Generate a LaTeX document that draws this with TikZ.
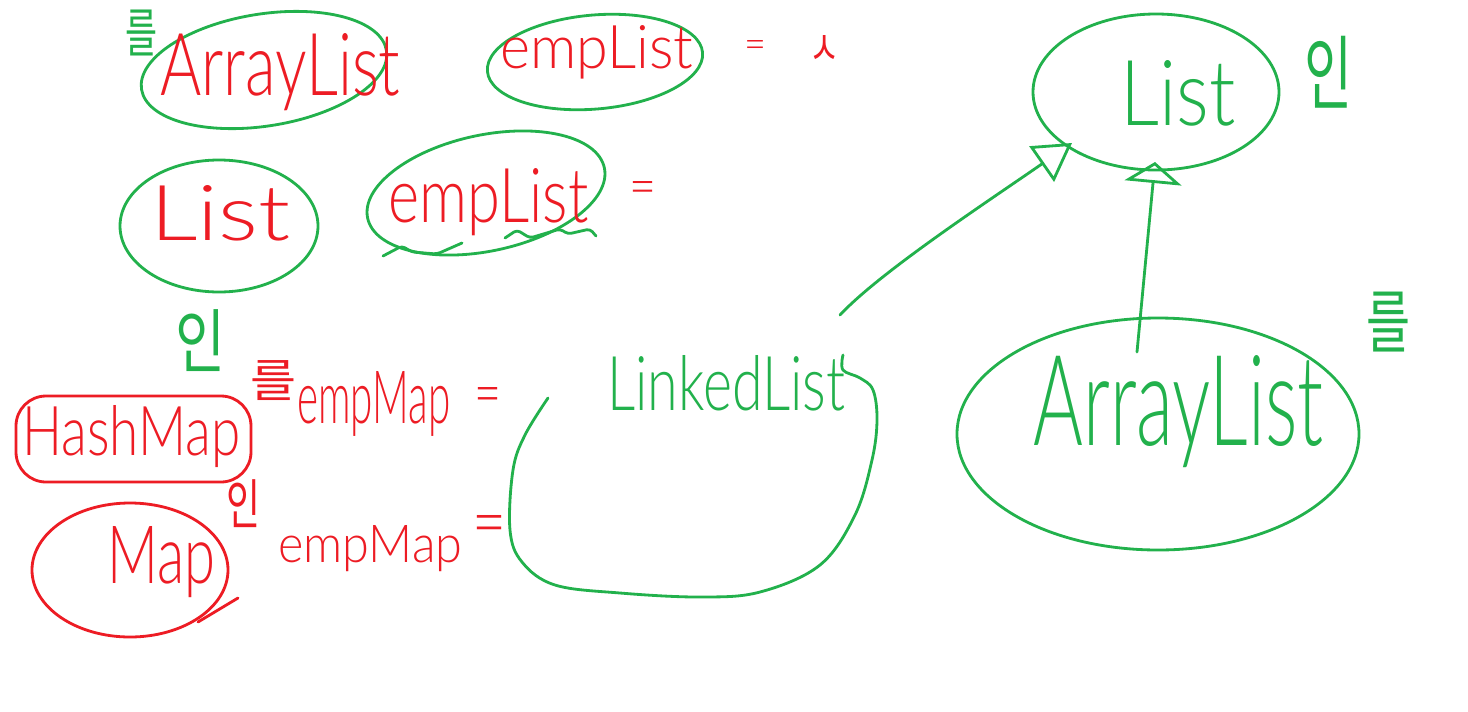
\documentclass[tikz,border=0pt]{standalone}
\usepackage{fontspec}
\setmainfont{Liberation Sans}
\newfontfamily\handfont{Lato Light}
\newfontfamily\krfont{Noto Sans CJK KR}
\usetikzlibrary{arrows.meta}
\definecolor{pg}{RGB}{34,177,76}
\definecolor{pr}{RGB}{237,28,36}
\newdimen\pu \pu=0.02cm
\newcommand{\hw}[3]{\resizebox{#1\pu}{#2\pu}{\handfont #3}}
\newcommand{\hwk}[3]{\resizebox*{#1\pu}{#2\pu}{\krfont #3}}
\begin{document}
\begin{tikzpicture}[x=0.02cm,y=-0.02cm,
  gl/.style={draw=pg,line width=1.6pt,line cap=round,line join=round},
  rl/.style={draw=pr,line width=1.6pt,line cap=round,line join=round},
  tx/.style={inner sep=0pt,anchor=base west},
  tc/.style={inner sep=0pt,anchor=center}]
\useasboundingbox[fill=white] (0,0) rectangle (1468,711);

% ---------- ellipses / outlines ----------
\draw[gl,rotate around={9:(264,70)}] (264,70) ellipse [x radius=124, y radius=56];
\coordinate (eArrTL) at (264,70);
\draw[gl,rotate around={5:(595,62)}] (595,62) ellipse [x radius=108, y radius=47];
\coordinate (eEmpTL) at (595,62);
\draw[gl] (219,226) ellipse [x radius=99, y radius=66];
\coordinate (eListL) at (219,226);
\draw[gl,rotate around={12:(486,193)}] (486,193) ellipse [x radius=121, y radius=58];
\coordinate (eEmpL) at (486,193);
\draw[gl,rounded corners=2pt] (383,256) -- (402,246) -- (412,252) -- (437,254) -- (462,243);
\draw[gl,rounded corners=2pt] (505,238) -- (517,230) -- (530,238) -- (560,229) -- (568,234) -- (590,229) -- (596,236);
\draw[rl,rounded corners=0.6cm] (16,396) rectangle (251,482);
\draw[rl] (130,570) ellipse [x radius=98, y radius=67];
\draw[rl] (198,622) -- (238,598);
\draw[gl] plot[smooth,tension=0.6] coordinates {(548,398) (525,435) (513,470) (510,530) (522,562) (555,585) (620,593) (700,597) (760,592) (820,565) (855,515) (872,460) (877,420) (873,390) (860,378) (843,370) (843,355)};
\draw[gl] (1156,92) ellipse [x radius=123, y radius=78];
\draw[gl] (1158,434) ellipse [x radius=201, y radius=116];

% ---------- connectors ----------
\coordinate (a1s) at (840,315);
\coordinate (a1e) at (1072,143);
\coordinate (a2s) at (1137,352);
\coordinate (a2e) at (1155,162);
\draw[gl,-{Triangle[open,length=0.74cm,width=0.86cm,line width=1.6pt]}] (a1s) .. controls (880,272) and (990,200) .. (a1e);
\draw[gl,-{Triangle[open,length=0.42cm,width=1.14cm,line width=1.6pt]}] (a2s) -- (a2e);

% ---------- red texts ----------
\node[tx,text=pr] (t1) at (160,95) {\hw{240}{62}{ArrayList}};
\node[tx,text=pr] (t2) at (500,68) {\hw{193}{43}{empList}};
\node[tc,text=pr] (eq1) at (755,49) {\hw{22}{18}{=}};
\node[tc,text=pr] (ks) at (824,50) {\hwk{30}{30}{ㅅ}};
\node[tx,text=pr] (t3) at (150,240) {\hw{140}{55}{List}};
\node[tx,text=pr] (t4) at (388,222) {\hw{200}{54}{empList}};
\node[tc,text=pr] (eq2) at (643,193) {\hw{27}{24}{=}};
\node[tx,text=pr] (t5) at (22,455) {\hw{218}{50}{HashMap}};
\node[tx,text=pr] (t6) at (297,423) {\hw{153}{52}{empMap}};
\node[tc,text=pr] (eq3) at (488,401) {\hw{27}{28}{=}};
\node[tx,text=pr] (t11) at (107,583) {\hw{108}{57}{Map}};
\node[tx,text=pr] (t12) at (278,562) {\hw{184}{37}{empMap}};
\node[tc,text=pr] (eq4) at (489,531) {\hw{34}{32}{=}};
\node[tc,text=pr] (k1) at (273,381) {\hwk{46}{40}{를}};
\node[tc,text=pr] (k2) at (243,504) {\hwk{34}{48}{인}};

% ---------- green texts ----------
\node[tc,text=pg] (k3) at (142,33) {\hwk{32}{46}{를}};
\node[tc,text=pg] (k4) at (201,341) {\hwk{50}{62}{인}};
\node[tc,text=pg] (k5) at (1328,72) {\hwk{48}{72}{인}};
\node[tc,text=pg] (k6) at (1388,322) {\hwk{44}{60}{를}};
\node[tx,text=pg] (t8) at (607,410) {\hw{238}{55}{LinkedList}};
\node[tx,text=pg] (t9) at (1120,125) {\hw{115}{65}{List}};
\node[tx,text=pg] (t10) at (1033,445) {\hw{290}{90}{ArrayList}};
\end{tikzpicture}
\end{document}
